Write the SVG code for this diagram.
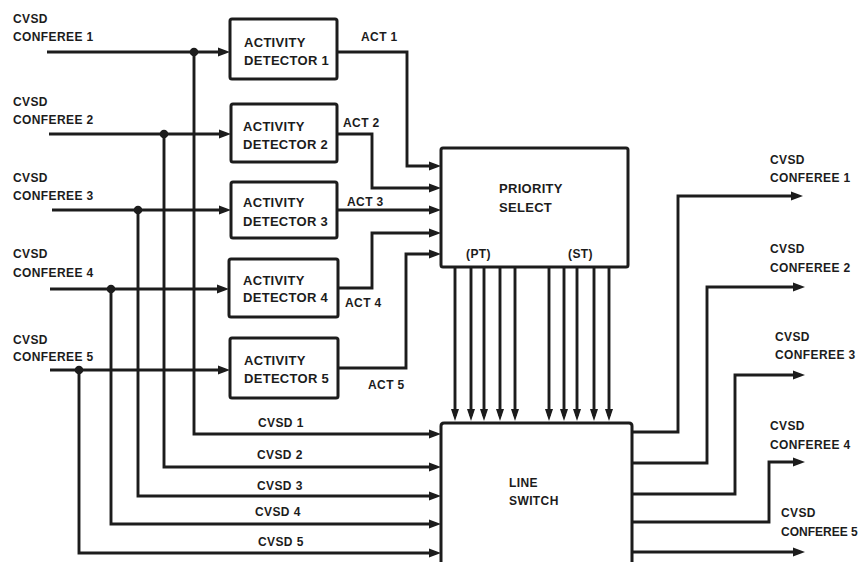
<svg xmlns="http://www.w3.org/2000/svg" width="861" height="562" viewBox="0 0 861 562">
<style>
.box{fill:#fff;stroke:#1c1c1c;stroke-width:3}
.w{fill:none;stroke:#1c1c1c;stroke-width:2.9;stroke-linejoin:miter;stroke-linecap:butt}
.a{marker-end:url(#arr)}
.d{marker-end:url(#arrd)}
.dot{fill:#1c1c1c}
text{font-family:"Liberation Sans",Arial,sans-serif;font-weight:bold;fill:#1c1c1c}
.lbl{font-size:12px;letter-spacing:0.4px}
.blk{font-size:13px;letter-spacing:0.3px}
</style>
<defs>
<marker id="arr" markerUnits="userSpaceOnUse" markerWidth="13" markerHeight="10" refX="7" refY="5" orient="auto">
<path d="M0,0.6 L12,5 L0,9.4 z" fill="#1c1c1c"/>
</marker>
<marker id="arrd" markerUnits="userSpaceOnUse" markerWidth="13" markerHeight="10" refX="7" refY="5" orient="auto">
<path d="M0,1 L12,5 L0,9 z" fill="#1c1c1c"/>
</marker>
</defs>
<rect width="861" height="562" fill="#fff"/>

<g id="connectors">
<!-- inputs to activity detectors -->
<path class="w a" d="M47,52 H225"/>
<path class="w a" d="M49,134 H226"/>
<path class="w a" d="M52,210 H226"/>
<path class="w a" d="M50,289 H224"/>
<path class="w a" d="M50,370 H225"/>
<!-- buses to line switch -->
<path class="w a" d="M194,52 V434 H436"/>
<path class="w a" d="M164,134 V467 H436"/>
<path class="w a" d="M138,210 V496 H436"/>
<path class="w a" d="M111,289 V524 H436"/>
<path class="w a" d="M79,370 V553 H436"/>
<circle class="dot" cx="194" cy="52" r="4.3"/>
<circle class="dot" cx="164" cy="134" r="4.3"/>
<circle class="dot" cx="138" cy="210" r="4.3"/>
<circle class="dot" cx="111" cy="289" r="4.3"/>
<circle class="dot" cx="79" cy="370" r="4.3"/>
<!-- ACT lines -->
<path class="w a" d="M337,52 H407 V166 H436"/>
<path class="w a" d="M337,134 H372 V188 H436"/>
<path class="w a" d="M337,210 H436"/>
<path class="w a" d="M338,288 H372 V233 H436"/>
<path class="w a" d="M338,368 H406 V254 H436"/>
<!-- priority select to line switch -->
<path class="w d" d="M455,267 V416"/>
<path class="w d" d="M471,267 V416"/>
<path class="w d" d="M484,267 V416"/>
<path class="w d" d="M500,267 V416"/>
<path class="w d" d="M515,267 V416"/>
<path class="w d" d="M549,267 V416"/>
<path class="w d" d="M564,267 V416"/>
<path class="w d" d="M577,267 V416"/>
<path class="w d" d="M594,267 V416"/>
<path class="w d" d="M609,267 V416"/>
<!-- outputs -->
<path class="w a" d="M632,432 H678 V196 H798"/>
<path class="w a" d="M632,463 H707 V287 H800"/>
<path class="w a" d="M632,494 H735 V375 H800"/>
<path class="w a" d="M632,522 H769 V462 H800"/>
<path class="w a" d="M632,552 H800"/>
</g>

<g id="in-labels">
<text class="lbl" x="13" y="23">CVSD</text>
<text class="lbl" x="13" y="41">CONFEREE 1</text>
<text class="lbl" x="13" y="106">CVSD</text>
<text class="lbl" x="13" y="124">CONFEREE 2</text>
<text class="lbl" x="13" y="182">CVSD</text>
<text class="lbl" x="13" y="200">CONFEREE 3</text>
<text class="lbl" x="13" y="258">CVSD</text>
<text class="lbl" x="13" y="277">CONFEREE 4</text>
<text class="lbl" x="13" y="344">CVSD</text>
<text class="lbl" x="13" y="361">CONFEREE 5</text>
</g>

<g id="bus-labels">
<text class="lbl" x="258" y="427">CVSD 1</text>
<text class="lbl" x="257" y="459">CVSD 2</text>
<text class="lbl" x="257" y="490">CVSD 3</text>
<text class="lbl" x="255" y="516">CVSD 4</text>
<text class="lbl" x="258" y="546">CVSD 5</text>
</g>

<g id="act-labels">
<text class="lbl" x="361" y="41">ACT 1</text>
<text class="lbl" x="343" y="127">ACT 2</text>
<text class="lbl" x="347" y="206">ACT 3</text>
<text class="lbl" x="345" y="307">ACT 4</text>
<text class="lbl" x="368" y="389">ACT 5</text>
</g>

<g id="ad1">
<rect class="box" x="230" y="19" width="107" height="60" rx="2"/>
<text class="blk" x="244" y="47">ACTIVITY</text>
<text class="blk" x="244" y="65">DETECTOR 1</text>
</g>
<g id="ad2">
<rect class="box" x="231" y="104" width="106" height="58" rx="2"/>
<text class="blk" x="243" y="131">ACTIVITY</text>
<text class="blk" x="243" y="149">DETECTOR 2</text>
</g>
<g id="ad3">
<rect class="box" x="231" y="182" width="106" height="56" rx="2"/>
<text class="blk" x="243" y="207">ACTIVITY</text>
<text class="blk" x="243" y="226">DETECTOR 3</text>
</g>
<g id="ad4">
<rect class="box" x="229" y="259" width="109" height="58" rx="2"/>
<text class="blk" x="243" y="285">ACTIVITY</text>
<text class="blk" x="243" y="302">DETECTOR 4</text>
</g>
<g id="ad5">
<rect class="box" x="230" y="338" width="108" height="60" rx="2"/>
<text class="blk" x="244" y="365">ACTIVITY</text>
<text class="blk" x="244" y="383">DETECTOR 5</text>
</g>

<g id="priority-select">
<rect class="box" x="441" y="148" width="187" height="119" rx="2"/>
<text class="blk" x="499" y="193">PRIORITY</text>
<text class="blk" x="499" y="212">SELECT</text>
<text class="lbl" x="466" y="258">(PT)</text>
<text class="lbl" x="568" y="258">(ST)</text>
</g>

<g id="line-switch">
<path class="box" d="M441,566 V426 Q441,423 444,423 H629 Q632,423 632,426 V566"/>
<text class="lbl" x="509" y="487">LINE</text>
<text class="lbl" x="509" y="505">SWITCH</text>
</g>

<g id="out-labels">
<text class="lbl" x="770" y="164">CVSD</text>
<text class="lbl" x="770" y="182">CONFEREE 1</text>
<text class="lbl" x="770" y="253">CVSD</text>
<text class="lbl" x="770" y="272">CONFEREE 2</text>
<text class="lbl" x="775" y="341">CVSD</text>
<text class="lbl" x="775" y="359">CONFEREE 3</text>
<text class="lbl" x="770" y="430">CVSD</text>
<text class="lbl" x="770" y="449">CONFEREE 4</text>
<text class="lbl" x="781" y="517">CVSD</text>
<text class="lbl" x="781" y="536" style="letter-spacing:0">CONFEREE 5</text>
</g>
</svg>
